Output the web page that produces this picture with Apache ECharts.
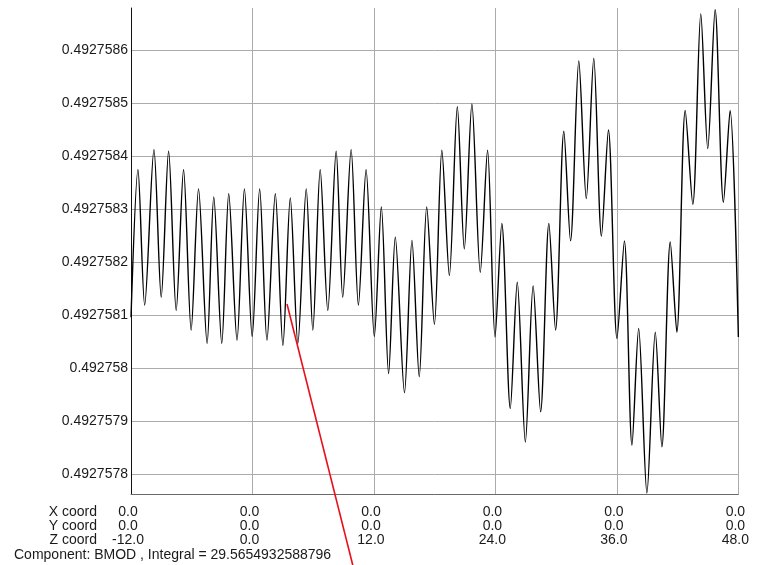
<!DOCTYPE html>
<html>
<head>
<meta charset="utf-8">
<title>BMOD along Z</title>
<script src="https://cdn.jsdelivr.net/npm/echarts@6/dist/echarts.min.js"></script>
<style>
  html, body { margin: 0; padding: 0; background: #ffffff; }
  #chart { width: 758px; height: 565px; }
</style>
</head>
<body>
<div id="chart"></div>
<script>
// Sample positions along the Z coordinate (peaks and troughs of the trace)
const zPos = [
  -12.000, -11.310, -10.650, -9.734, -9.015, -8.286, -7.537, -6.808, -6.059, -5.330,
  -4.483, -3.823, -3.034, -2.345, -1.527, -0.798, -0.030, 0.709, 1.429, 2.256,
  3.005, 3.734, 4.483, 5.310, 5.961, 6.690, 7.438, 8.266, 8.916, 9.744,
  10.463, 11.222, 12.039, 12.729, 13.448, 14.108, 15.015, 15.754, 16.473, 17.212,
  17.970, 18.709, 19.448, 20.236, 20.926, 21.675, 22.502, 23.222, 23.961, 24.630,
  25.468, 26.157, 26.956, 27.724, 28.463, 29.281, 29.941, 30.759, 31.419, 32.236,
  32.975, 33.714, 34.473, 35.162, 36.010, 36.739, 37.488, 38.148, 38.965, 39.793,
  40.443, 41.271, 41.921, 42.749, 43.497, 44.286, 44.975, 45.704, 46.522, 47.182,
  48.000
];

// BMOD component values at those positions
const bmod = [
  0.492758096, 0.492758374, 0.492758119, 0.492758412, 0.492758134, 0.492758409, 0.492758109, 0.492758374, 0.492758072, 0.492758338,
  0.492758047, 0.492758323, 0.492758047, 0.492758329, 0.492758053, 0.492758338, 0.492758060, 0.492758338, 0.492758053, 0.492758329,
  0.492758043, 0.492758321, 0.492758047, 0.492758338, 0.492758072, 0.492758374, 0.492758109, 0.492758409, 0.492758134, 0.492758412,
  0.492758119, 0.492758374, 0.492758060, 0.492758304, 0.492757990, 0.492758247, 0.492757954, 0.492758241, 0.492757984, 0.492758304,
  0.492758083, 0.492758411, 0.492758175, 0.492758493, 0.492758225, 0.492758498, 0.492758181, 0.492758411, 0.492758059, 0.492758273,
  0.492757924, 0.492758162, 0.492757861, 0.492758155, 0.492757918, 0.492758273, 0.492758072, 0.492758447, 0.492758240, 0.492758579,
  0.492758320, 0.492758584, 0.492758249, 0.492758449, 0.492758056, 0.492758240, 0.492757855, 0.492758075, 0.492757765, 0.492758068,
  0.492757852, 0.492758238, 0.492758068, 0.492758486, 0.492758309, 0.492758668, 0.492758414, 0.492758676, 0.492758313, 0.492758486,
  0.492758059
];

// Value axis ticks
const yTicks = [0.4927578, 0.4927579, 0.492758, 0.4927581, 0.4927582, 0.4927583, 0.4927584, 0.4927585, 0.4927586];

// Coordinate table under the plot, one column per Z tick
const zTicks = [-12, 0, 12, 24, 36, 48];
const xCoordRow = ['0.0', '0.0', '0.0', '0.0', '0.0', '0.0'];
const yCoordRow = ['0.0', '0.0', '0.0', '0.0', '0.0', '0.0'];
const zCoordRow = ['-12.0', '0.0', '12.0', '24.0', '36.0', '48.0'];
const rowNames = ['X coord', 'Y coord', 'Z coord'];
const footer = 'Component: BMOD , Integral = 29.5654932588796';

const FONT = '"Liberation Sans", Arial, sans-serif';
const TEXT = '#1a1a1a';
const GRID = '#ababab';

const seriesData = zPos.map((z, i) => [z, bmod[i]]);

const chart = echarts.init(document.getElementById('chart'), null, { renderer: 'canvas' });

chart.setOption({
  animation: false,
  backgroundColor: '#ffffff',
  grid: { left: 131, right: 18, top: 8, bottom: 71, containLabel: false },
  xAxis: {
    type: 'value',
    min: -12,
    max: 48,
    interval: 12,
    axisLine: { show: true, lineStyle: { color: '#6a6a6a', width: 1 } },
    axisTick: { show: false },
    splitLine: { show: true, lineStyle: { color: GRID, width: 1 } },
    axisLabel: {
      show: true,
      showMinLabel: true,
      showMaxLabel: true,
      margin: 11,
      color: TEXT,
      fontFamily: FONT,
      fontSize: 14,
      lineHeight: 14,
      align: 'center',
      padding: [0, 6, 0, 0],
      formatter: function (v) {
        const i = zTicks.indexOf(Math.round(v));
        if (i < 0) return '';
        return xCoordRow[i] + '\n' + yCoordRow[i] + '\n' + zCoordRow[i];
      }
    }
  },
  yAxis: {
    type: 'value',
    min: 0.492757763,
    max: 0.492758679,
    scale: true,
    axisLine: { show: true, onZero: false, lineStyle: { color: '#111111', width: 1 } },
    axisTick: { show: false, customValues: yTicks },
    splitLine: { show: true, lineStyle: { color: GRID, width: 1 } },
    axisLabel: {
      customValues: yTicks,
      margin: 3,
      color: TEXT,
      fontFamily: FONT,
      fontSize: 14,
      formatter: function (v) { return String(parseFloat(v.toFixed(7))); }
    }
  },
  series: [{
    type: 'line',
    data: seriesData,
    showSymbol: false,
    symbol: 'none',
    smooth: 0.3,
    lineStyle: { color: '#000000', width: 1.4 },
    clip: true
  }],
  graphic: [
    // coordinate row captions
    ...rowNames.map((name, i) => ({
      type: 'text',
      x: 97,
      y: 512 + i * 14,
      style: {
        text: name,
        fill: TEXT,
        font: '14px ' + FONT,
        textAlign: 'right',
        textVerticalAlign: 'middle'
      }
    })),
    {
      type: 'text',
      x: 14,
      y: 555,
      style: {
        text: footer,
        fill: TEXT,
        font: '14px ' + FONT,
        textAlign: 'left',
        textVerticalAlign: 'middle'
      }
    },
    // red pointer line
    {
      type: 'line',
      shape: { x1: 287, y1: 304, x2: 353, y2: 566 },
      style: { stroke: '#e8101a', lineWidth: 1.6 },
      z: 100
    }
  ]
});
</script>
</body>
</html>
